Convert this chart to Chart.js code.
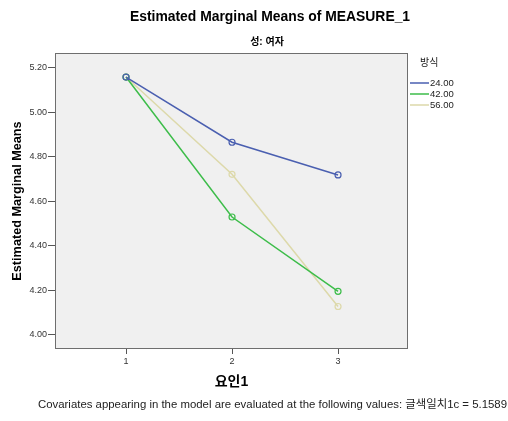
<!DOCTYPE html>
<html>
<head>
<meta charset="utf-8">
<script src="https://cdn.jsdelivr.net/npm/chart.js@4"></script>
<style>
  html, body { margin: 0; padding: 0; background: #fff; }
  #wrap { width: 508px; height: 421px; }
</style>
</head>
<body>
<div id="wrap"><canvas id="emm_chart" width="508" height="421"></canvas></div>
<script>
// data
var factorLevels = [1, 2, 3];
var seriesNames = ["24.00", "42.00", "56.00"];
var means24 = [5.159, 4.866, 4.719];
var means42 = [5.159, 4.530, 4.196];
var means56 = [5.159, 4.722, 4.128];
var yTicks = [4.00, 4.20, 4.40, 4.60, 4.80, 5.00, 5.20];

var FONT = "Arial, 'Liberation Sans', 'Noto Sans CJK KR', sans-serif";
var colors = ['#4a5fb0', '#3dbd4a', '#ddd9aa'];

function toPoints(vals) {
    return vals.map(function(v, i) {
        return { x: factorLevels[i], y: v };
    });
}

var allMeans = [means24, means42, means56];
var datasets = allMeans.map(function(vals, i) {
    return {
        label: seriesNames[i],
        data: toPoints(vals),
        borderColor: colors[i],
        borderWidth: 1.5,
        pointRadius: 3,
        pointBorderWidth: 1.2,
        pointBackgroundColor: 'rgba(0,0,0,0)',
        pointBorderColor: colors[i],
        lineTension: 0,
        fill: false
    };
});

// plot background, border, titles, legend and footnote
var decor = {
    id: 'decor',
    beforeDraw: function(chart) {
        var ctx = chart.ctx, a = chart.chartArea;
        ctx.save();
        ctx.fillStyle = '#f0f0f0';
        ctx.fillRect(a.left, a.top, a.right - a.left, a.bottom - a.top);
        ctx.restore();
    },
    afterDraw: function(chart) {
        var ctx = chart.ctx, a = chart.chartArea;
        ctx.save();
        ctx.strokeStyle = '#6e6e6e';
        ctx.lineWidth = 1;
        ctx.strokeRect(a.left + 0.5, a.top + 0.5, a.right - a.left - 1, a.bottom - a.top - 1);

        ctx.fillStyle = '#000';
        ctx.textBaseline = 'middle';
        ctx.textAlign = 'center';
        ctx.font = 'bold 13.9px ' + FONT;
        ctx.fillText('Estimated Marginal Means of MEASURE_1', 270, 17);
        ctx.font = 'bold 10px ' + FONT;
        ctx.fillText('성: 여자', 267, 42);

        // legend
        ctx.textAlign = 'left';
        ctx.fillStyle = '#222';
        ctx.font = '10px ' + FONT;
        ctx.fillText('방식', 420, 63);
        ctx.font = '9.5px ' + FONT;
        chart.data.datasets.forEach(function(ds, i) {
            var y = 83 + i * 11;
            ctx.strokeStyle = ds.borderColor;
            ctx.lineWidth = 1.5;
            ctx.beginPath();
            ctx.moveTo(410, y);
            ctx.lineTo(429, y);
            ctx.stroke();
            ctx.fillText(ds.label, 430, y);
        });

        ctx.textAlign = 'center';
        ctx.fillStyle = '#222';
        ctx.font = '11.4px ' + FONT;
        ctx.fillText('Covariates appearing in the model are evaluated at the following values: 글색일치1c = 5.1589', 272.5, 405);
        ctx.restore();
    }
};

var chartOptions = {
    responsive: false,
    animation: false,
    layout: { padding: { left: 0, top: 53, right: 100, bottom: 0 } },
    plugins: {
        legend: { display: false },
        tooltip: { enabled: false }
    },
    scales: {
        x: {
            type: 'linear',
            min: 0.33,
            max: 3.66,
            afterBuildTicks: function(scale) {
                scale.ticks = factorLevels.map(function(v) { return { value: v }; });
            },
            afterFit: function(scale) { scale.height = 72; },
            grid: { drawOnChartArea: false, tickLength: 5, color: '#555', tickWidth: 1 },
            border: { display: false },
            ticks: {
                color: '#333',
                font: { family: FONT, size: 9 },
                padding: 2,
                callback: function(v) { return String(v); }
            },
            title: {
                display: true,
                text: '요인1',
                color: '#000',
                font: { family: FONT, size: 14, weight: 'bold' },
                padding: { top: 8, bottom: 30 }
            }
        },
        y: {
            min: 3.937,
            max: 5.267,
            afterBuildTicks: function(scale) {
                scale.ticks = yTicks.map(function(v) { return { value: v }; });
            },
            afterFit: function(scale) { scale.width = 55; },
            grid: { drawOnChartArea: false, tickLength: 7, color: '#555', tickWidth: 1 },
            border: { display: false },
            ticks: {
                color: '#333',
                font: { family: FONT, size: 9 },
                padding: 1,
                callback: function(v) { return Number(v).toFixed(2); }
            },
            title: {
                display: true,
                text: 'Estimated Marginal Means',
                color: '#000',
                font: { family: FONT, size: 12.7, weight: 'bold' },
                padding: { top: 10, bottom: 0 }
            }
        }
    }
};

var lineChart = new Chart(document.getElementById('emm_chart'), {
    type: 'line',
    data: { datasets: datasets },
    options: chartOptions,
    plugins: [decor]
});
</script>
</body>
</html>
